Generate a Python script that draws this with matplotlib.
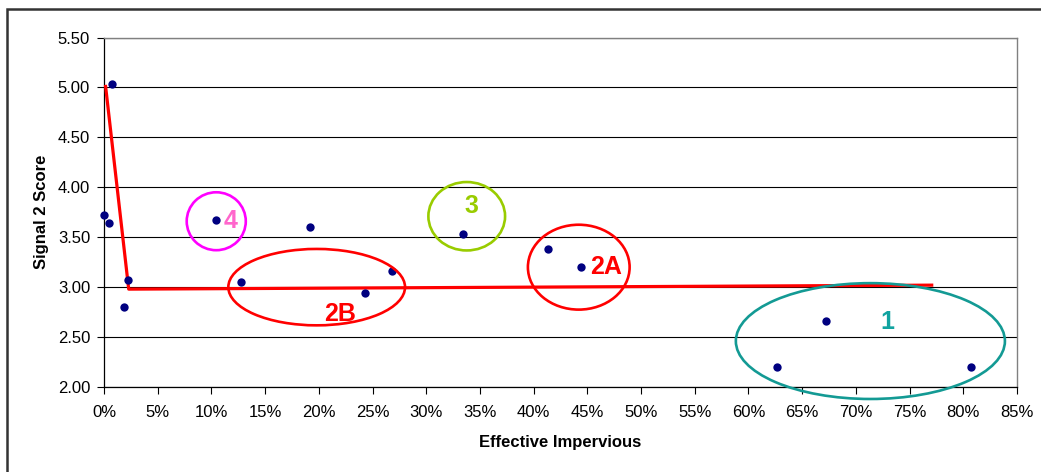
import matplotlib
matplotlib.use("Agg")
import matplotlib.pyplot as plt
from matplotlib.patches import Ellipse, Rectangle
from matplotlib.ticker import PercentFormatter, MultipleLocator, FormatStrFormatter

plt.rcParams['font.family'] = ['Liberation Sans', 'DejaVu Sans']

# Data (effective impervious %, signal 2 score)
imperv = [0.0, 0.47, 0.74, 1.86, 2.23, 10.4, 12.75, 19.2, 24.3, 26.8, 33.4, 41.3, 44.4, 62.7, 67.2, 80.7]
score = [3.72, 3.64, 5.03, 2.80, 3.07, 3.67, 3.05, 3.60, 2.94, 3.16, 3.53, 3.38, 3.20, 2.20, 2.66, 2.20]

# Piecewise fit line
fit_x = [0.15, 2.3, 77.06]
fit_y = [5.01, 2.98, 3.02]

# Group annotations: label, center x, center y, width, height, ring colour, label x, label y, label colour
groups = [
    ("4", 10.45, 3.66, 5.5, 0.58, "#FF00FF", 11.75, 3.66, "#FF66CC"),
    ("2B", 19.8, 3.00, 16.45, 0.765, "#FF0000", 22.0, 2.73, "#FF0000"),
    ("3", 33.77, 3.71, 7.14, 0.685, "#99CC00", 34.2, 3.81, "#99CC00"),
    ("2A", 44.2, 3.20, 9.47, 0.85, "#FF0000", 46.7, 3.20, "#FF0000"),
    ("1", 71.35, 2.46, 25.05, 1.16, "#139A94", 72.95, 2.65, "#11A3A0"),
]

fig = plt.figure(figsize=(10.41, 4.72), dpi=100)
ax = fig.add_axes([104/1041, 1 - 387/472, (1017 - 104)/1041, (387 - 37.5)/472])

ax.set_xlim(0, 85)
ax.set_ylim(2.0, 5.5)
ax.yaxis.set_major_locator(MultipleLocator(0.5))
ax.yaxis.set_major_formatter(FormatStrFormatter('%.2f'))
ax.xaxis.set_major_locator(MultipleLocator(5))
ax.xaxis.set_major_formatter(PercentFormatter(decimals=0))

ax.grid(axis='y', color='black', linewidth=0.8, zorder=0)
ax.set_axisbelow(True)
for s in ['top', 'right']:
    ax.spines[s].set_color('#808080')
    ax.spines[s].set_linewidth(1.0)
for s in ['left', 'bottom']:
    ax.spines[s].set_color('black')
    ax.spines[s].set_linewidth(0.9)

ax.tick_params(axis='both', direction='out', length=5, width=0.8, labelsize=12, colors='black')
ax.tick_params(axis='x', pad=8)
ax.tick_params(axis='y', pad=5)

ax.plot(fit_x, fit_y, color='#FF0000', linewidth=2.3, zorder=3, clip_on=False)
ax.scatter(imperv, score, s=36, color='#000080', zorder=4, clip_on=False, linewidths=0)

for lab, cx, cy, w, h, ec, tx, ty, tc in groups:
    e = Ellipse((cx, cy), w, h, fill=False, edgecolor=ec, linewidth=1.9, zorder=5, clip_on=False)
    ax.add_patch(e)
    ax.text(tx, ty, lab, color=tc, fontsize=18, fontweight='bold', ha='center', va='center', zorder=6)

ax.set_xlabel('Effective Impervious', fontsize=12, fontweight='bold', labelpad=11)
ax.set_ylabel('Signal 2 Score', fontsize=12, fontweight='bold', labelpad=6)

# Outer chart border
fig.patches.append(Rectangle((7/1041, -0.05), 1.2, (472 - 9)/472 + 0.05, transform=fig.transFigure,
                             fill=False, edgecolor='#333333', linewidth=1.8, clip_on=False))

fig.savefig('out.png', dpi=100)
